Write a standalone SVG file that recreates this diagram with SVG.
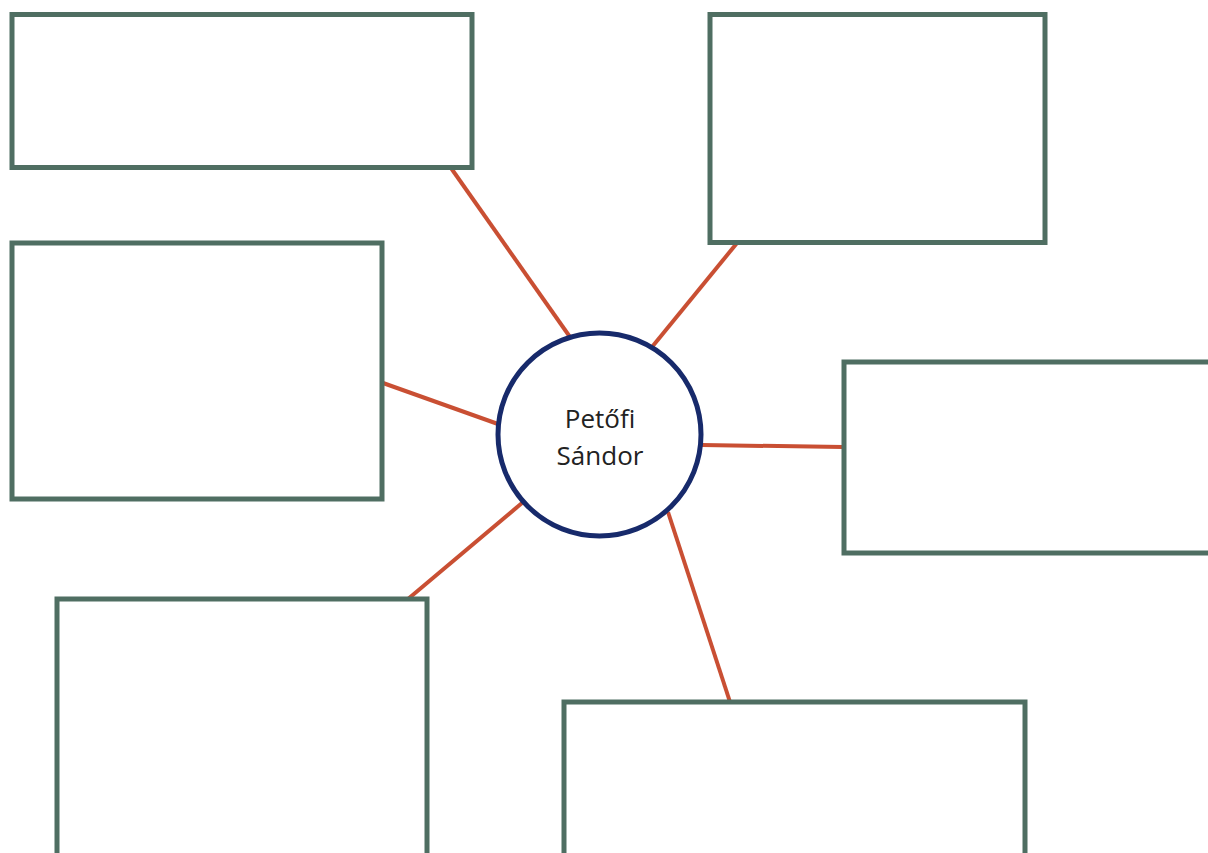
<svg xmlns="http://www.w3.org/2000/svg" width="1208" height="853" viewBox="0 0 1208 853">
<style>
.box{fill:#fff;stroke:#4f6e62;stroke-width:5}
.conn{stroke:#c94f33;stroke-width:4;fill:none}
.hub{fill:#fff;stroke:#172a6b;stroke-width:5}
.lbl{font-family:"Open Sans","Noto Sans",sans-serif;font-size:26px;fill:#222;text-anchor:middle}
</style>
<rect width="1208" height="853" fill="#fff"/>
<g id="connectors">
<line class="conn" x1="451" y1="168" x2="570" y2="337"/>
<line class="conn" x1="737" y1="243" x2="652" y2="347"/>
<line class="conn" x1="383" y1="383" x2="498" y2="424"/>
<line class="conn" x1="702" y1="445" x2="843" y2="447"/>
<line class="conn" x1="522" y1="503" x2="408" y2="599"/>
<line class="conn" x1="668" y1="512" x2="730" y2="702"/>
</g>
<g id="box1"><rect class="box" x="12" y="14.5" width="460" height="153"/></g>
<g id="box2"><rect class="box" x="710" y="14.5" width="335" height="228"/></g>
<g id="box3"><rect class="box" x="12" y="243" width="370" height="256"/></g>
<g id="box4"><rect class="box" x="844" y="362" width="380" height="191"/></g>
<g id="box5"><rect class="box" x="57" y="599" width="370" height="280"/></g>
<g id="box6"><rect class="box" x="564" y="702" width="461" height="180"/></g>
<g id="hub">
<circle class="hub" cx="599.5" cy="434.5" r="101.5"/>
<text class="lbl" x="600" y="428">Petőfi</text>
<text class="lbl" x="600" y="465">Sándor</text>
</g>
</svg>
